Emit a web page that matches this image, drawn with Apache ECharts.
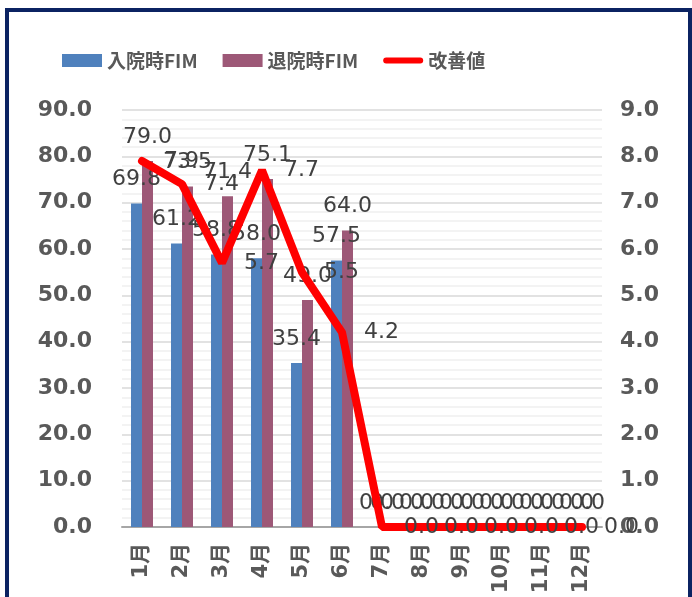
<!DOCTYPE html>
<html>
<head>
<meta charset="utf-8">
<script src="https://cdn.jsdelivr.net/npm/echarts@6/dist/echarts.min.js"></script>
<style>
  html, body { margin: 0; padding: 0; background: #fff; }
  #chart { position: absolute; left: 0; top: 0; width: 692px; height: 597px; }
  #frame {
    position: absolute; left: 5px; top: 8px; width: 679px; height: 620px;
    border: 4px solid #0b2362; pointer-events: none;
  }
</style>
</head>
<body>
<div id="chart"></div>
<div id="frame"></div>
<script>
const months = ['1月', '2月', '3月', '4月', '5月', '6月', '7月', '8月', '9月', '10月', '11月', '12月']
const admitFim = [69.8, 61.2, 58.8, 58.0, 35.4, 57.5, 0, 0, 0, 0, 0, 0]
const dischargeFim = [79.0, 73.5, 71.4, 75.1, 49.0, 64.0, 0, 0, 0, 0, 0, 0]
const improvement = [7.9, 7.4, 5.7, 7.7, 5.5, 4.2, 0, 0, 0, 0, 0, 0]

const labelFont = {
  fontFamily: 'DejaVu Sans',
  fontSize: 22,
  color: '#404040',
  formatter: p => p.value.toFixed(1)
}
const axisFont = {
  fontFamily: 'DejaVu Sans',
  fontSize: 22,
  fontWeight: 'bold',
  color: '#595959'
}

const chart = echarts.init(document.getElementById('chart'))
chart.setOption({
  animation: false,
  legend: {
    left: 62,
    top: 51,
    padding: 0,
    itemWidth: 40,
    itemHeight: 13,
    itemGap: 25,
    textStyle: {
      fontFamily: 'Noto Sans CJK JP',
      fontSize: 19,
      fontWeight: 'bold',
      color: '#595959'
    },
    data: [
      { name: '入院時FIM', icon: 'rect' },
      { name: '退院時FIM', icon: 'rect' },
      { name: '改善値', icon: 'path://M3,0 L37,0 A3,3 0 0 1 37,6 L3,6 A3,3 0 0 1 3,0 Z', itemStyle: { color: '#ff0000' } }
    ]
  },
  grid: {
    left: 122,
    right: 90,
    top: 110,
    bottom: 70
  },
  xAxis: {
    type: 'category',
    data: months,
    axisLine: { lineStyle: { color: '#a6a6a6', width: 2 } },
    axisTick: { show: false },
    axisLabel: {
      rotate: 90,
      margin: 16,
      interval: 0,
      fontFamily: 'DejaVu Sans, Noto Sans CJK JP',
      fontSize: 21,
      fontWeight: 'bold',
      color: '#595959'
    }
  },
  yAxis: [
    {
      type: 'value',
      min: 0,
      max: 90,
      interval: 10,
      axisLine: { show: false },
      axisTick: { show: false },
      axisLabel: Object.assign({ margin: 30, formatter: v => v.toFixed(1) }, axisFont),
      splitLine: { lineStyle: { color: '#d9d9d9', width: 1.5 } },
      minorTick: { show: false, splitNumber: 5 },
      minorSplitLine: { show: true, lineStyle: { color: '#efefef', width: 1.5 } }
    },
    {
      type: 'value',
      min: 0,
      max: 9,
      interval: 1,
      axisLine: { show: false },
      axisTick: { show: false },
      splitLine: { show: false },
      axisLabel: Object.assign({ margin: 18, formatter: v => v.toFixed(1) }, axisFont)
    }
  ],
  series: [
    {
      name: '入院時FIM',
      type: 'bar',
      data: admitFim,
      barWidth: 11,
      barGap: '0%',
      itemStyle: { color: '#4f81bd' },
      label: Object.assign({ show: true, position: 'top', distance: 13 }, labelFont)
    },
    {
      name: '退院時FIM',
      type: 'bar',
      data: dischargeFim,
      barWidth: 11,
      barGap: '0%',
      itemStyle: { color: '#9d5877' },
      label: Object.assign({ show: true, position: 'top', distance: 13 }, labelFont)
    },
    {
      name: '改善値',
      type: 'line',
      yAxisIndex: 1,
      data: improvement,
      symbol: 'circle',
      symbolSize: 0.1,
      showSymbol: true,
      lineStyle: { color: '#ff0000', width: 8, cap: 'round' },
      itemStyle: { color: '#ff0000' },
      label: Object.assign({ show: true, position: 'right', distance: 22 }, labelFont),
      labelLayout: { hideOverlap: false },
      z: 5
    }
  ]
})
</script>
</body>
</html>
